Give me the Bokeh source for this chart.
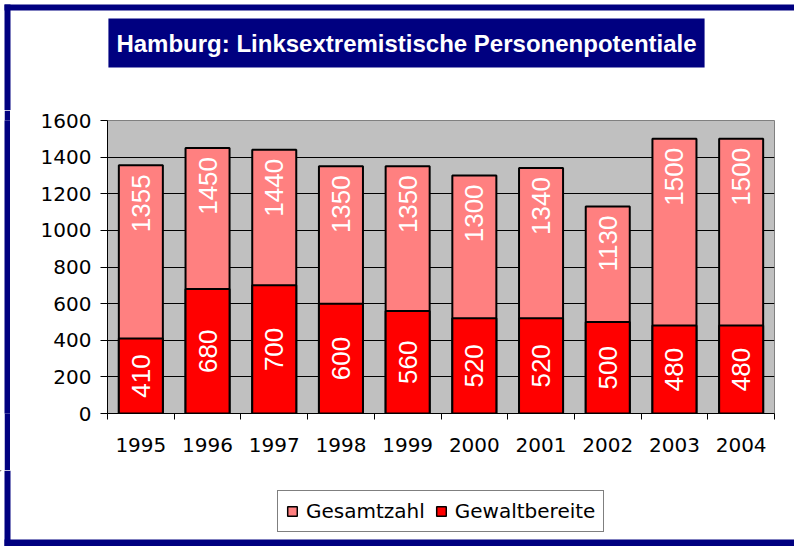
from math import pi
from bokeh.plotting import figure
from bokeh.layouts import column, row
from bokeh.models import (Range1d, FixedTicker, Legend, LegendItem, ColumnDataSource,
                          BoxAnnotation, Label)
from bokeh.core.properties import value
from bokeh.embed import file_html
from bokeh.resources import INLINE

# ---- data ----
years = ["1995", "1996", "1997", "1998", "1999", "2000", "2001", "2002", "2003", "2004"]
gesamtzahl = [1355, 1450, 1440, 1350, 1350, 1300, 1340, 1130, 1500, 1500]
gewaltbereite = [410, 680, 700, 600, 560, 520, 520, 500, 480, 480]
y_ticks = [0, 200, 400, 600, 800, 1000, 1200, 1400, 1600]
series_names = ["Gesamtzahl", "Gewaltbereite"]
title_text = "Hamburg: Linksextremistische Personenpotentiale"

NAVY = "#000080"
C_TOTAL = "#FF8080"
C_VIOL = "#FF0000"


def blank(width, height, fill="white", **kw):
    """A figure whose frame covers the whole canvas; coordinates = pixels from top-left."""
    f = figure(width=width, height=height, x_range=Range1d(0, width), y_range=Range1d(height, 0),
               x_axis_type=None, y_axis_type=None, output_backend="svg", toolbar_location=None,
               min_border=0, outline_line_color=None, background_fill_color=fill,
               border_fill_color=fill, **kw)
    f.xgrid.visible = False
    f.ygrid.visible = False
    return f


# ---------- top: frame strips + title ----------
top = blank(794, 110)
top.add_layout(BoxAnnotation(left=4, right=794, top=4, bottom=10,
                             fill_color=NAVY, fill_alpha=1, line_color=None))
top.add_layout(BoxAnnotation(left=4, right=10, top=4, bottom=110,
                             fill_color=NAVY, fill_alpha=1, line_color=None))
top.add_layout(Label(x=406, y=42.5, text=title_text, text_align="center", text_baseline="middle",
                     text_font="Liberation Sans", text_font_style="bold", text_font_size="24px",
                     text_color="white", background_fill_color=NAVY, background_fill_alpha=1,
                     padding=dict(left=8, right=8, top=11, bottom=11)))

# ---------- left strip beside chart ----------
left = blank(6, 360, fill=NAVY, margin=(0, 0, 0, 4))

# ---------- main chart ----------
xs = [i + 0.5 for i in range(len(years))]
src = ColumnDataSource(dict(
    x=xs,
    total=gesamtzahl,
    violent=gewaltbereite,
    violent_mid=[v / 2 for v in gewaltbereite],
    total_lbl=[str(v) for v in gesamtzahl],
    violent_lbl=[str(v) for v in gewaltbereite],
))

p = figure(width=784, height=360, x_range=Range1d(0, len(years)), y_range=Range1d(0, 1600),
           output_backend="svg", toolbar_location=None,
           min_border_left=97, min_border_right=20, min_border_top=10, min_border_bottom=57,
           background_fill_color="#C0C0C0", border_fill_color="white",
           outline_line_color="#808080", outline_line_width=1)

p.xgrid.visible = False
p.ygrid.ticker = FixedTicker(ticks=y_ticks)
p.ygrid.grid_line_color = "black"
p.ygrid.grid_line_width = 1

r_total = p.vbar(x="x", top="total", bottom=0, width=0.66, source=src,
                 fill_color=C_TOTAL, line_color="black", line_width=2)
r_viol = p.vbar(x="x", top="violent", bottom=0, width=0.66, source=src,
                fill_color=C_VIOL, line_color="black", line_width=2)

p.text(x="x", y="total", text="total_lbl", source=src, angle=pi / 2,
       text_align="right", text_baseline="middle", y_offset=9,
       text_color="white", text_font=value("Liberation Sans"), text_font_size="26px")
p.text(x="x", y="violent_mid", text="violent_lbl", source=src, angle=pi / 2,
       text_align="center", text_baseline="middle",
       text_color="white", text_font=value("Liberation Sans"), text_font_size="26px")

p.yaxis.ticker = FixedTicker(ticks=y_ticks)
p.yaxis.major_label_text_font = "DejaVu Sans"
p.yaxis.major_label_text_font_size = "20px"
p.yaxis.major_label_text_color = "black"
p.yaxis.major_tick_in = 0
p.yaxis.major_tick_out = 7
p.yaxis.major_tick_line_color = "black"
p.yaxis.minor_tick_line_color = None
p.yaxis.axis_line_color = "black"
p.yaxis.major_label_standoff = 9

p.xaxis.ticker = FixedTicker(ticks=xs, minor_ticks=list(range(len(years) + 1)))
p.xaxis.major_label_overrides = {x: y for x, y in zip(xs, years)}
p.xaxis.major_tick_in = 0
p.xaxis.major_tick_out = 0
p.xaxis.minor_tick_in = 0
p.xaxis.minor_tick_out = 6
p.xaxis.minor_tick_line_color = "black"
p.xaxis.axis_line_color = "black"
p.xaxis.major_label_text_font = "DejaVu Sans"
p.xaxis.major_label_text_font_size = "20px"
p.xaxis.major_label_text_color = "black"
p.xaxis.major_label_standoff = 18

# ---------- bottom: legend + frame strips ----------
bot = blank(794, 76)
bot.add_layout(BoxAnnotation(left=4, right=10, top=0, bottom=76,
                             fill_color=NAVY, fill_alpha=1, line_color=None))
bot.add_layout(BoxAnnotation(left=4, right=794, top=69, bottom=76,
                             fill_color=NAVY, fill_alpha=1, line_color=None))
# legend swatch renderers (placed outside the visible range; only their style is used)
lg_total = bot.vbar(x=[-100], top=[-100], bottom=[-110], width=1,
                    fill_color=C_TOTAL, line_color="black", line_width=1.5)
lg_viol = bot.vbar(x=[-100], top=[-100], bottom=[-110], width=1,
                   fill_color=C_VIOL, line_color="black", line_width=1.5)
legend = Legend(items=[LegendItem(label=series_names[0], renderers=[lg_total]),
                       LegendItem(label=series_names[1], renderers=[lg_viol])],
                location=(277, 14), orientation="horizontal",
                label_text_font="DejaVu Sans", label_text_font_size="20px",
                label_text_color="black", glyph_width=12, glyph_height=12,
                label_standoff=8, spacing=10, padding=8, margin=0,
                border_line_color="black", border_line_width=1,
                background_fill_color="white", background_fill_alpha=1)
bot.add_layout(legend)

layout = column(top, row(left, p), bot)

open("out.html", "w").write(file_html(layout, INLINE))
